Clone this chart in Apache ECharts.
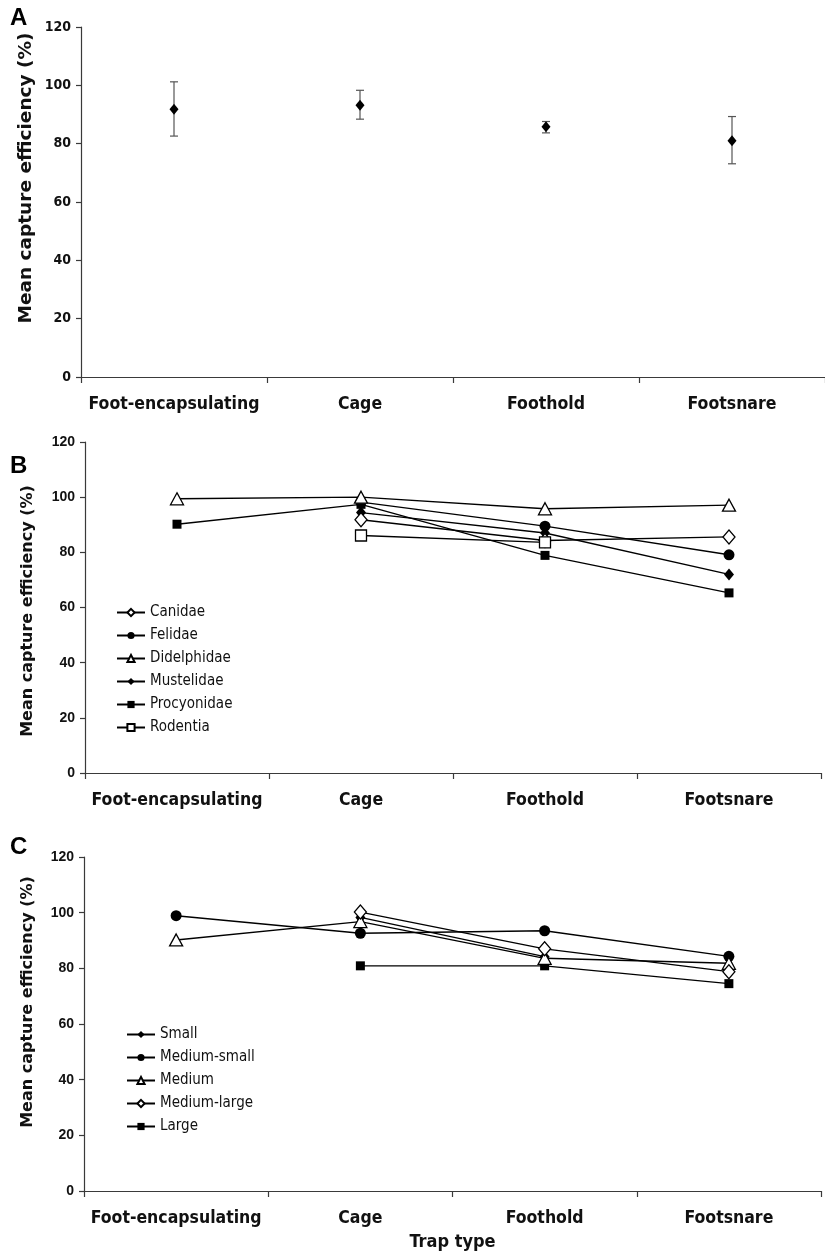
<!DOCTYPE html>
<html>
<head>
<meta charset="utf-8">
<script src="https://cdn.jsdelivr.net/npm/echarts@6/dist/echarts.min.js"></script>
<style>
html,body{margin:0;padding:0;background:#fff;}
#chart{width:825px;height:1253px;}
</style>
</head>
<body>
<div id="chart"></div>
<script>
// ---- data ----
const categories = ['Foot-encapsulating', 'Cage', 'Foothold', 'Footsnare'];
const yTickMin = 0, yTickMax = 120, yTickStep = 20;

// Panel A: overall mean with error bars
const meanA  = [91.8, 93.2, 85.8, 81.0];
const upperA = [101.2, 98.3, 87.6, 89.3];
const lowerA = [82.6, 88.4, 83.7, 73.1];

// Panel B: by family
const canidae     = [null, 91.8, 84.3, 85.6];
const felidae     = [null, 98.2, 89.5, 79.1];
const didelphidae = [99.4, 100.0, 95.8, 97.1];
const mustelidae  = [null, 94.4, 87.0, 72.0];
const procyonidae = [90.2, 97.4, 78.9, 65.3];
const rodentia    = [null, 86.1, 83.6, null];

// Panel C: by body size
const small       = [null, 98.3, 84.2, null];
const mediumSmall = [98.9, 92.6, 93.5, 84.3];
const medium      = [90.2, 96.8, 83.6, 81.8];
const mediumLarge = [null, 100.2, 87.0, 78.8];
const large       = [null, 80.9, 80.9, 74.5];

// ---- style ----
const NARROW = "'Liberation Sans Narrow','DejaVu Sans Condensed','Arial Narrow',sans-serif";
const SANS = "'Liberation Sans',Arial,sans-serif";
const WIDE = "'DejaVu Sans',Verdana,sans-serif";
const AX = '#3a3a3a';

const chart = echarts.init(document.getElementById('chart'), null, {renderer: 'canvas'});

const grids = [
  {left: 81, top: 27, width: 752, height: 350},
  {left: 85, top: 442, width: 736, height: 331},
  {left: 84, top: 857, width: 737, height: 334}
];

function xAx(i, withName) {
  const o = {
    type: 'category', gridIndex: i, data: categories, boundaryGap: true,
    axisLine: {lineStyle: {color: AX, width: 1.2}},
    axisTick: {show: true, interval: 0, length: 6, lineStyle: {color: AX, width: 1.2}},
    axisLabel: {interval: 0, color: '#111', fontFamily: NARROW, fontWeight: 'bold', fontSize: 17.5, margin: 18},
    splitLine: {show: false}
  };
  if (withName) {
    o.name = 'Trap type';
    o.nameLocation = 'middle';
    o.nameGap = 42;
    o.nameTextStyle = {color: '#111', fontFamily: NARROW, fontWeight: 'bold', fontSize: 18};
  }
  return o;
}
function yAx(i, font) {
  return {
    type: 'value', gridIndex: i, min: yTickMin, max: yTickMax, interval: yTickStep,
    axisLine: {show: true, lineStyle: {color: AX, width: 1.2}},
    axisTick: {show: true, length: 5, lineStyle: {color: AX, width: 1.2}},
    axisLabel: {color: '#111', fontFamily: font, fontWeight: 'bold', fontSize: 14, margin: 10},
    splitLine: {show: false}
  };
}

function lineSeries(name, data, gi, symbol, size, filled) {
  return {
    type: 'line', name: name, data: data, xAxisIndex: gi, yAxisIndex: gi,
    connectNulls: false, symbol: symbol, symbolSize: size, showSymbol: true,
    lineStyle: {color: '#000', width: 1.4},
    itemStyle: {color: filled ? '#000' : '#fff', borderColor: '#000', borderWidth: filled ? 0 : 1.3},
    emphasis: {disabled: true}, z: filled ? 3 : 4
  };
}

const errData = categories.map((c, i) => [i, lowerA[i], upperA[i]]);

const legendText = {color: '#111', fontFamily: NARROW, fontSize: 15, lineHeight: 14};

function yTitle(x, y, size) {
  return {type: 'text', x: x, y: y, rotation: Math.PI / 2,
    style: {text: 'Mean capture efficiency (%)', font: 'bold ' + size + 'px ' + WIDE, fill: '#111', align: 'center', verticalAlign: 'middle'}};
}

const option = {
  animation: false,
  backgroundColor: '#fff',
  grid: grids,
  xAxis: [xAx(0, false), xAx(1, false), xAx(2, true)],
  yAxis: [yAx(0, NARROW), yAx(1, SANS), yAx(2, SANS)],
  legend: [
    {
      orient: 'vertical', left: 111, top: 600, itemWidth: 28, itemHeight: 9, itemGap: 8,
      textStyle: legendText, selectedMode: false,
      data: ['Canidae', 'Felidae', 'Didelphidae', 'Mustelidae', 'Procyonidae', 'Rodentia']
    },
    {
      orient: 'vertical', left: 121, top: 1022, itemWidth: 28, itemHeight: 9, itemGap: 8,
      textStyle: legendText, selectedMode: false,
      data: ['Small', 'Medium-small', 'Medium', 'Medium-large', 'Large']
    }
  ],
  graphic: [
    {type: 'text', left: 10, top: 6, style: {text: 'A', font: 'bold 24px ' + SANS, fill: '#000'}},
    {type: 'text', left: 10, top: 454, style: {text: 'B', font: 'bold 24px ' + SANS, fill: '#000'}},
    {type: 'text', left: 10, top: 835, style: {text: 'C', font: 'bold 24px ' + SANS, fill: '#000'}},
    yTitle(26, 178, 18.5),
    yTitle(28, 611, 16),
    yTitle(28, 1002, 16)
  ],
  series: [
    {
      type: 'custom', name: 'errA', xAxisIndex: 0, yAxisIndex: 0, data: errData, z: 2,
      renderItem: function (params, api) {
        const x = api.value(0);
        const lo = api.coord([x, api.value(1)]);
        const hi = api.coord([x, api.value(2)]);
        const w = 4;
        const st = {stroke: '#555', lineWidth: 1.2};
        return {type: 'group', children: [
          {type: 'line', shape: {x1: lo[0], y1: lo[1], x2: hi[0], y2: hi[1]}, style: st},
          {type: 'line', shape: {x1: lo[0] - w, y1: lo[1], x2: lo[0] + w, y2: lo[1]}, style: st},
          {type: 'line', shape: {x1: hi[0] - w, y1: hi[1], x2: hi[0] + w, y2: hi[1]}, style: st}
        ]};
      }
    },
    {
      type: 'line', name: 'Mean', data: meanA, xAxisIndex: 0, yAxisIndex: 0,
      symbol: 'diamond', symbolSize: [9, 11], lineStyle: {width: 0, opacity: 0},
      itemStyle: {color: '#000'}, z: 3
    },
    lineSeries('Canidae', canidae, 1, 'diamond', [12, 14], false),
    lineSeries('Felidae', felidae, 1, 'circle', 11, true),
    lineSeries('Didelphidae', didelphidae, 1, 'triangle', [13, 12], false),
    lineSeries('Mustelidae', mustelidae, 1, 'diamond', [10, 12], true),
    lineSeries('Procyonidae', procyonidae, 1, 'rect', 9, true),
    lineSeries('Rodentia', rodentia, 1, 'rect', 11, false),

    lineSeries('Small', small, 2, 'diamond', [10, 12], true),
    lineSeries('Medium-small', mediumSmall, 2, 'circle', 11, true),
    lineSeries('Medium', medium, 2, 'triangle', [13, 12], false),
    lineSeries('Medium-large', mediumLarge, 2, 'diamond', [12, 14], false),
    lineSeries('Large', large, 2, 'rect', 9, true)
  ]
};
chart.setOption(option);
</script>
</body>
</html>
